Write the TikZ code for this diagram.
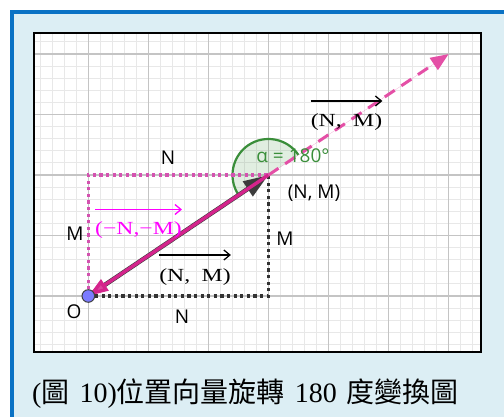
\documentclass[tikz,border=0pt]{standalone}
\usepackage{fontspec}
\newfontfamily\cjk{Noto Sans CJK TC}
\newfontfamily\capfont{Liberation Serif}
\newfontfamily\gsans{Open Sans}
\usetikzlibrary{arrows.meta}
\definecolor{panel}{HTML}{DCEEF4}
\definecolor{bordblue}{HTML}{0A72C4}
\definecolor{minorgrid}{HTML}{E8E8E8}
\definecolor{majorgrid}{HTML}{C4C4C4}
\definecolor{anggreen}{HTML}{3A8E3A}
\definecolor{vecdark}{HTML}{3C3C3C}
\definecolor{vecmag}{HTML}{D4248C}
\definecolor{dashmag}{HTML}{E44FA6}
\definecolor{dotmag}{HTML}{D452B0}
\definecolor{labmag}{HTML}{FF00FF}
\definecolor{ptblue}{HTML}{7B7BFF}
\newcommand{\vtext}[1]{\scalebox{1.28}[1]{#1}}
\begin{document}
\begin{tikzpicture}[x=1pt,y=-1pt,
  minorline/.style={draw=minorgrid, line width=0.8},
  majorline/.style={draw=majorgrid, line width=1.2},
  lab/.style={font=\gsans\fontsize{19}{22}\selectfont, inner sep=0pt},
  vlab/.style={font=\capfont\fontsize{18.5}{21}\selectfont, inner sep=0pt, anchor=base},
  overarr/.style={line width=1.3, -{Straight Barb[length=6pt,width=10pt]}},
  dotline/.style={line width=3.2, dash pattern=on 3.2pt off 3.4pt},
  darkvec/.style={draw=vecdark, line width=4.5, -{Triangle[length=25pt,width=17pt]}},
  magvec/.style={draw=vecmag, line width=3.4, -{Triangle[length=20pt,width=13pt,fill=vecmag!85!white]}},
  dashvec/.style={draw=dashmag, line width=3, dash pattern=on 12pt off 8pt, -{Triangle[length=18pt,width=14pt]}}
]
\useasboundingbox (0,0) rectangle (504,417);
\fill[white] (0,0) rectangle (504,417);
\draw[line width=4, draw=bordblue, fill=panel] (12,12) rectangle (540,450);
% plot area
\fill[white] (34,33) rectangle (481,352);
\begin{scope}
  \clip (34,33) rectangle (481,352);
  \foreach \i in {-4,...,32} \draw[minorline] ({88.3+12*\i},33) -- ({88.3+12*\i},352);
  \foreach \j in {-4,...,21} \draw[minorline] (34,{296-12.1*\j}) -- (481,{296-12.1*\j});
  \foreach \i in {0,...,6} \draw[majorline] ({88.3+60*\i},33) -- ({88.3+60*\i},352);
  \foreach \j in {0,...,4} \draw[majorline] (34,{296-60.5*\j}) -- (481,{296-60.5*\j});
\end{scope}
\draw[line width=2] (34,33) rectangle (481,352);
% points
\coordinate (O) at (88.3,296);
\coordinate (P) at (268.5,175);
\coordinate (Q) at (448.7,54);
\coordinate (C1) at (268.5,296);
\coordinate (C2) at (88.3,175);
% angle
\fill[anggreen, fill opacity=0.15] (P) -- ++(-33.9:36) arc[start angle=-33.9, end angle=-213.9, radius=36] -- cycle;
\draw[anggreen, line width=2.2] (P) ++(-33.9:36) arc[start angle=-33.9, end angle=-213.9, radius=36];
% dotted guides
\draw[dotline, draw=black!80] (O) -- (C1) -- (P);
\draw[dotline, draw=dotmag] (O) -- (C2) -- (P);
% vectors
\draw[darkvec] (O) -- (P);
\draw[magvec] (P) -- (O);
\draw[dashvec, fill=dashmag] (P) -- (Q);
\fill[ptblue, draw=black!75, line width=1] (O) circle (6.3);
% labels
\node[lab] (lN1) at (168,158) {N};
\node[lab] (lM1) at (75,234) {M};
\node[lab] (lM2) at (285,239) {M};
\node[lab] (lN2) at (182,317) {N};
\node[lab] (lO) at (74,312) {O};
\node[lab] (lP) at (314,193) {(N, M)};
\node[lab, text=anggreen] (lang) at (293,156) {α = 180°};
\node[vlab] (v1) at (195,281) {\vtext{(N,\hspace{9pt}M)}};
\draw[overarr] ([yshift=26pt]v1.base west) -- ([yshift=26pt]v1.base east);
\node[vlab] (v2) at (346.5,127) {\vtext{(N,\hspace{9pt}M)}};
\draw[overarr] ([yshift=26pt]v2.base west) -- ([yshift=26pt]v2.base east);
\node[vlab, text=labmag] (v3) at (138.5,234.5) {\vtext{(−N,−M)}};
\draw[overarr, draw=labmag] ([yshift=25pt]v3.base west) -- ([yshift=25pt]v3.base east);
% caption
\node[anchor=base west, inner sep=0pt, font=\fontsize{28}{32}\selectfont] (cap) at (32,402)
  {{\capfont(}{\cjk 圖}{\capfont\hspace{10pt}10)}{\cjk 位置向量旋轉}{\capfont\hspace{10pt}180\hspace{10pt}}{\cjk 度變換圖}};
\end{tikzpicture}
\end{document}
